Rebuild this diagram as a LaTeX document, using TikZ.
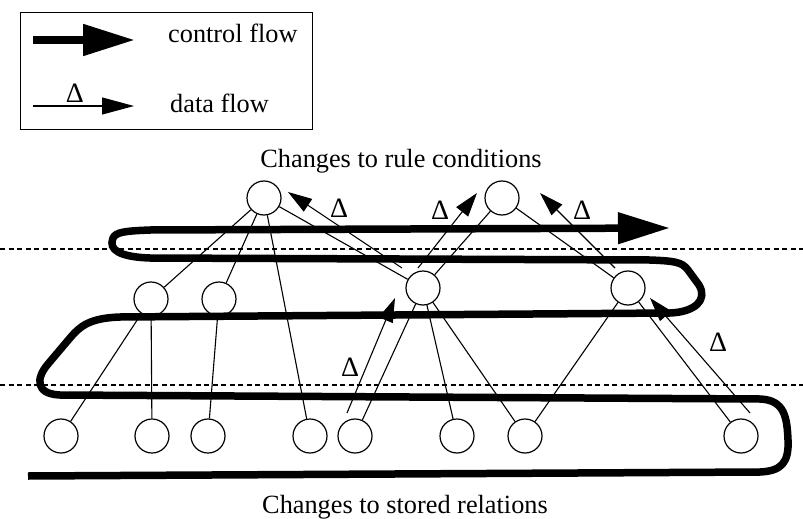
\documentclass[tikz,border=0pt]{standalone}
\usepackage{fontspec}
\setmainfont{Liberation Serif}
\usetikzlibrary{arrows.meta}
\begin{document}
\begin{tikzpicture}[x=1pt,y=-1pt,
  rnode/.style={circle,draw,fill=white,line width=1.2pt,minimum size=34pt,inner sep=0pt},
  edge/.style={line width=1.1pt},
  dflow/.style={line width=1.1pt,-{Triangle[length=24pt,width=15pt]}},
  cflow/.style={line width=7.5pt,line join=round},
  sep/.style={line width=2pt,dash pattern=on 5pt off 3.5pt},
  lbl/.style={font=\fontsize{26.3}{30}\selectfont,inner sep=0pt},
  dlt/.style={font=\fontsize{28}{28}\selectfont,inner sep=0pt}]
\useasboundingbox (0,0) rectangle (803,519);
% legend
\node[draw,line width=1.4pt,minimum width=292pt,minimum height=117pt,anchor=north west,inner sep=0pt] (legend) at (20,12) {};
\coordinate (lc1) at (33,40); \coordinate (lc2) at (135,40);
\coordinate (ld1) at (33,106); \coordinate (ld2) at (134,106);
\draw[line width=8pt,-{Triangle[length=52pt,width=30pt]}] (lc1) -- (lc2);
\draw[line width=1.1pt,-{Triangle[length=32pt,width=17pt]}] (ld1) -- (ld2);
\node[dlt] (ldelta) at (75,93) {Δ};
\node[lbl,anchor=base west] (lcf) at (168,43) {control flow};
\node[lbl,anchor=base west] (ldf) at (170,112) {data flow};
% titles
\node[lbl,anchor=base] (top) at (401,167) {Changes to rule conditions};
\node[lbl,anchor=base] (bot) at (405,513) {Changes to stored relations};
% separators
\coordinate (s1a) at (0,249); \coordinate (s1b) at (803,249);
\coordinate (s2a) at (0,385); \coordinate (s2b) at (803,385);
\draw[sep] (s1a) -- (s1b);
\draw[sep] (s2a) -- (s2b);
% nodes
\node[rnode] (T1) at (264,198) {};
\node[rnode] (T2) at (502,198) {};
\node[rnode] (M1) at (151,299) {};
\node[rnode] (M2) at (219,299) {};
\node[rnode] (M3) at (423,288) {};
\node[rnode] (M4) at (628,288) {};
\node[rnode] (B1) at (61,436) {};
\node[rnode] (B2) at (152,436) {};
\node[rnode] (B3) at (208,436) {};
\node[rnode] (B4) at (310,436) {};
\node[rnode] (B5) at (355,436) {};
\node[rnode] (B6) at (457,436) {};
\node[rnode] (B7) at (525,436) {};
\node[rnode] (B8) at (741,436) {};
% edges
\draw[edge] (T1) -- (M1);
\draw[edge] (T1) -- (M2);
\draw[edge] (T1) -- (B4);
\draw[edge] (T1) -- (M3);
\draw[edge] (T2) -- (M3);
\draw[edge] (T2) -- (M4);
\draw[edge] (M1) -- (B1);
\draw[edge] (M1) -- (B2);
\draw[edge] (M2) -- (B3);
\draw[edge] (M3) -- (B5);
\draw[edge] (M3) -- (B6);
\draw[edge] (M3) -- (B7);
\draw[edge] (M4) -- (B7);
\draw[edge] (M4) -- (B8);
% data flows
\coordinate (d1s) at (402,268); \coordinate (d1t) at (288,192);
\coordinate (d2s) at (418,268); \coordinate (d2t) at (477,193);
\coordinate (d3s) at (615,268); \coordinate (d3t) at (540,193);
\coordinate (d4s) at (347,413); \coordinate (d4t) at (395,298);
\coordinate (d5s) at (750,413); \coordinate (d5t) at (650,298);
\draw[dflow] (d1s) -- (d1t);
\draw[dflow] (d2s) -- (d2t);
\draw[dflow] (d3s) -- (d3t);
\draw[dflow] (d4s) -- (d4t);
\draw[dflow] (d5s) -- (d5t);
\node[dlt] (D1) at (339,208) {Δ};
\node[dlt] (D2) at (440,210) {Δ};
\node[dlt] (D3) at (582,210) {Δ};
\node[dlt] (D4) at (350,367) {Δ};
\node[dlt] (D5) at (718,342) {Δ};
% control flow
\coordinate (cs) at (28,476);
\coordinate (ce) at (670,228);
\draw[cflow,-{Triangle[length=52pt,width=30pt]}] (cs) -- (760,472)
  .. controls (782,471) and (789,462) .. (788,440)
  .. controls (787,418) and (785,400) .. (760,399)
  -- (60,395)
  .. controls (35,394) and (36,378) .. (48,364)
  -- (70,338)
  .. controls (80,326) and (90,318) .. (120,317)
  -- (670,313)
  .. controls (695,312) and (708,300) .. (699,285)
  -- (688,270)
  .. controls (682,262) and (675,261) .. (650,260)
  -- (150,258)
  .. controls (120,257) and (108,250) .. (113,238)
  .. controls (116,232) and (125,231) .. (150,230)
  -- (ce);
\end{tikzpicture}
\end{document}
